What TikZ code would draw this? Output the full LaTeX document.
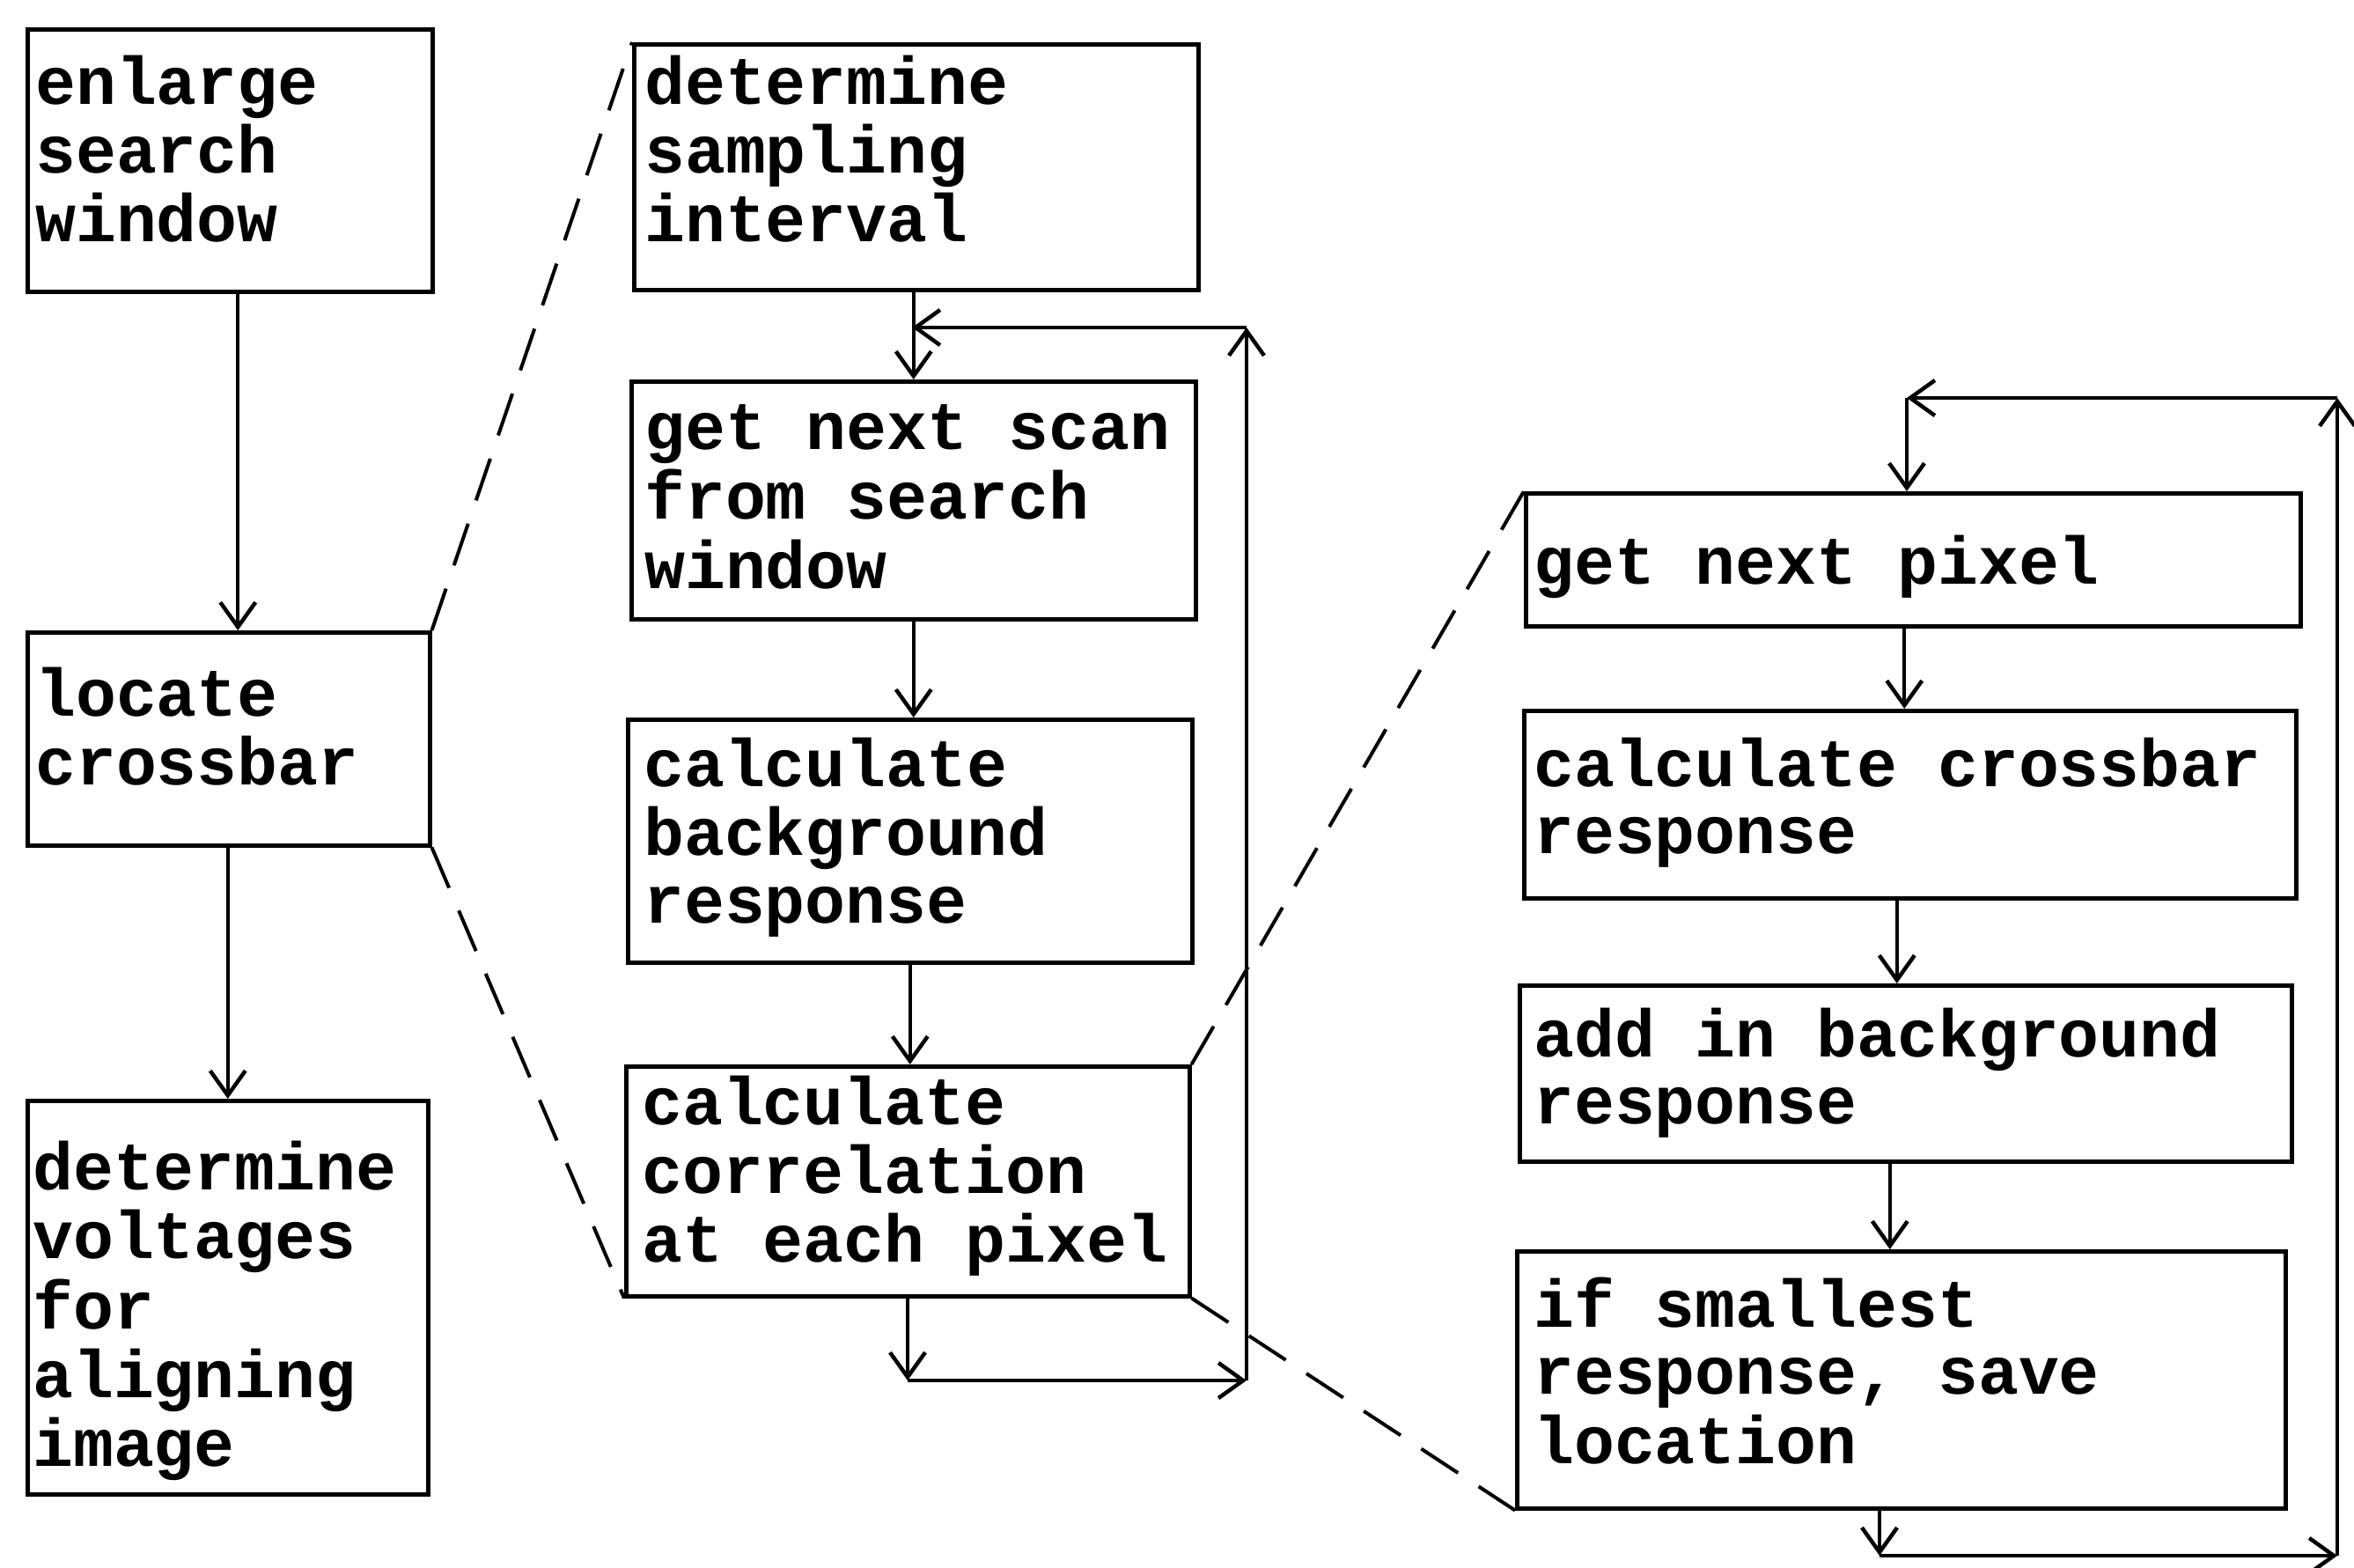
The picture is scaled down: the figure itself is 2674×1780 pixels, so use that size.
\documentclass[tikz,border=0pt]{standalone}
\usepackage{fontspec}
\newfontfamily\twfont{Liberation Mono}
\usetikzlibrary{arrows.meta}
\newcommand{\twtext}{\twfont\bfseries\fontsize{76.5}{76.7}\selectfont}
\newcommand{\boxlines}[1]{\begin{tabular}[t]{@{}l@{}}#1\end{tabular}}
\tikzset{
  fbox/.style={draw, line width=4.5pt, inner sep=0pt, anchor=north west, rectangle},
  txt/.style={anchor=base west, inner sep=0pt, font=\twtext},
  arr/.style={line width=4pt, -{Straight Barb[length=28pt,width=40pt,line width=4.5pt]}},
  dsh/.style={line width=4pt, dash pattern=on 50pt off 28pt},
}
\begin{document}
\begin{tikzpicture}[x=1pt,y=-1pt]
\fill[white] (0,0) rectangle (2674,1780);
\useasboundingbox (0,0) rectangle (2674,1780);
% boxes
\node[fbox, minimum width=460pt, minimum height=298pt] (A) at (29,31) {};
\node[fbox, minimum width=457pt, minimum height=242pt] (B) at (29,716) {};
\node[fbox, minimum width=455pt, minimum height=447pt] (C) at (29,1248) {};
\node[fbox, minimum width=641pt, minimum height=279pt] (D) at (718,48) {};
\node[fbox, minimum width=641pt, minimum height=270pt] (E) at (715,431) {};
\node[fbox, minimum width=641pt, minimum height=276pt] (F) at (711,815) {};
\node[fbox, minimum width=640pt, minimum height=261pt] (G) at (709,1209) {};
\node[fbox, minimum width=880pt, minimum height=151pt] (H) at (1731,558) {};
\node[fbox, minimum width=877pt, minimum height=213pt] (I) at (1729,805) {};
\node[fbox, minimum width=877pt, minimum height=200pt] (J) at (1724,1117) {};
\node[fbox, minimum width=873pt, minimum height=292pt] (K) at (1721,1419) {};
% texts
\node[txt] (tA) at (40,118) {\boxlines{enlarge\\search\\window}};
\node[txt] (tB) at (40,813) {\boxlines{locate\\crossbar}};
\node[txt] (tC) at (37,1351) {\boxlines{determine\\voltages\\for\\aligning\\image}};
\node[txt] (tD) at (732,118) {\boxlines{determine\\sampling\\interval}};
\node[txt] (tE) at (732,510) {\boxlines{get next scan\\from search\\window}};
\node[txt] (tF) at (731,893) {\boxlines{calculate\\background\\response}};
\node[txt] (tG) at (729,1277) {\boxlines{calculate\\correlation\\at each pixel}};
\node[txt] (tH) at (1742,663) {\boxlines{get next pixel}};
\node[txt] (tI) at (1742,893) {\boxlines{calculate crossbar\\response}};
\node[txt] (tJ) at (1742,1200) {\boxlines{add in background\\response}};
\node[txt] (tK) at (1742,1507) {\boxlines{if smallest\\response, save\\location}};
% left column arrows
\draw[arr] ([xshift=9pt]A.south) -- ([xshift=9pt]A.south |- B.north);
\draw[arr] ([xshift=-1pt]B.south) -- ([xshift=-1pt]B.south |- C.north);
% middle column
\draw[arr] (D.south -| E.north) -- (E.north);
\draw[arr] (E.south) -- (E.south |- F.north);
\draw[arr] (F.south) -- (F.south |- G.north);
\coordinate (c1) at (1031,1568);
\coordinate (c2) at (1416,1568);
\coordinate (c3) at (1416,372);
\coordinate (c4) at (1036,372);
\draw[arr] (G.south -| c1) -- (c1);
\draw[arr] (c1) -- (c2);
\draw[arr] (c2) -- (c3);
\draw[arr] (c3) -- (c4);
% right column
\draw[arr] ([xshift=-10pt]H.south) -- ([xshift=-10pt]H.south |- I.north);
\draw[arr] ([xshift=-15pt]I.south) -- ([xshift=-15pt]I.south |- J.north);
\draw[arr] ([xshift=-18pt]J.south) -- ([xshift=-18pt]J.south |- K.north);
\coordinate (r1) at (2135,1767);
\coordinate (r2) at (2655,1767);
\coordinate (r3) at (2655,452);
\coordinate (r4) at (2166,452);
\draw[arr] (K.south -| r1) -- (r1);
\draw[arr] (r1) -- (r2);
\draw[arr] (r2) -- (r3);
\draw[arr] (r3) -- (r4);
\draw[arr] (r4) -- (r4 |- H.north);
% dashed expansion lines
\draw[dsh] (B.north east) -- (D.north west);
\draw[dsh] (B.south east) -- (G.south west);
\draw[dsh] (G.north east) -- (H.north west);
\draw[dsh] (G.south east) -- (K.south west);
\end{tikzpicture}
\end{document}
